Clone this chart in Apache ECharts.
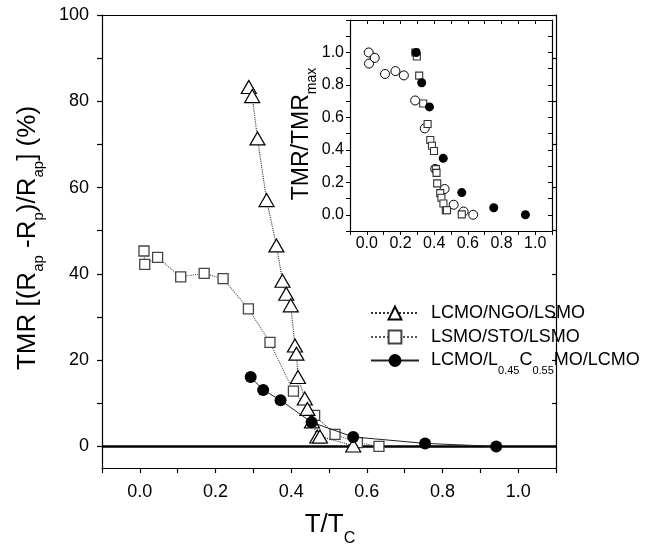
<!DOCTYPE html>
<html>
<head>
<meta charset="utf-8">
<script src="https://cdn.jsdelivr.net/npm/echarts@6/dist/echarts.min.js"></script>
<style>
  html, body { margin: 0; padding: 0; background: #fff; }
  #chart { width: 649px; height: 555px; }
</style>
</head>
<body>
<div id="chart"></div>
<script>
// LCMO/NGO/LSMO junction: reduced temperature and TMR (%)
const ngoT   = [0.288, 0.297, 0.311, 0.335, 0.361, 0.377, 0.387, 0.399, 0.410, 0.414, 0.418, 0.436, 0.443, 0.455, 0.469, 0.476, 0.564];
const ngoTMR = [83.3, 81.2, 71.4, 57.1, 46.6, 38.4, 35.4, 32.7, 23.4, 21.5, 16.1, 11.1, 8.7, 5.8, 2.3, 2.3, 0.2];

// LSMO/STO/LSMO junction
const stoT   = [0.011, 0.013, 0.047, 0.108, 0.170, 0.220, 0.287, 0.344, 0.406, 0.462, 0.516, 0.575, 0.632];
const stoTMR = [45.3, 42.2, 43.8, 39.3, 40.1, 38.9, 31.9, 24.1, 12.8, 7.2, 2.8, 0.9, 0.0];

// LCMO/L0.45C0.55MO/LCMO junction
const lcmoT   = [0.293, 0.326, 0.372, 0.454, 0.564, 0.754, 0.942];
const lcmoTMR = [16.1, 13.1, 10.7, 5.6, 2.2, 0.7, 0.0];

// axis tick positions
const mainXLabels = [0, 0.2, 0.4, 0.6, 0.8, 1.0];
const mainXTicks  = [-0.1, 0, 0.1, 0.2, 0.3, 0.4, 0.5, 0.6, 0.7, 0.8, 0.9, 1.0, 1.1];
const mainYLabels = [0, 20, 40, 60, 80, 100];
const mainYTicks  = [0, 10, 20, 30, 40, 50, 60, 70, 80, 90, 100];
const insetXLabels = [0, 0.2, 0.4, 0.6, 0.8, 1.0];
const insetXTicks  = [-0.1, 0, 0.1, 0.2, 0.3, 0.4, 0.5, 0.6, 0.7, 0.8, 0.9, 1.0, 1.1];
const insetYLabels = [0, 0.2, 0.4, 0.6, 0.8, 1.0];
const insetYTicks  = [-0.1, 0, 0.1, 0.2, 0.3, 0.4, 0.5, 0.6, 0.7, 0.8, 0.9, 1.0, 1.1, 1.2];

const NAME_NGO = 'LCMO/NGO/LSMO';
const NAME_STO = 'LSMO/STO/LSMO';
const NAME_LCMO = 'LCMO/L0.45C0.55MO/LCMO';

const FONT = '"Liberation Sans", Arial, Helvetica, sans-serif';

const pairs = (xs, ys) => xs.map((x, i) => [x, ys[i]]);
const normalized = (xs, ys) => {
  const m = Math.max(...ys);
  return xs.map((x, i) => [x, ys[i] / m]);
};

const fmt1 = v => v.toFixed(1);
const fmt0 = v => String(Math.round(v));

function valueAxis(opts) {
  return Object.assign({
    type: 'value',
    splitLine: { show: false },
    axisLine: { show: true, onZero: false, lineStyle: { color: '#000', width: 1.2 } },
    axisTick: { show: false },
    axisLabel: { show: false },
    minorTick: { show: false }
  }, opts);
}

const chart = echarts.init(document.getElementById('chart'), null, { renderer: 'canvas' });

const option = {
  animation: false,
  backgroundColor: '#fff',
  grid: [
    { left: 102, top: 15, right: 93, bottom: 87, containLabel: false },
    { left: 350, top: 20, right: 97, bottom: 324, containLabel: false, show: true, backgroundColor: '#fff', borderWidth: 0, z: 5 }
  ],
  xAxis: [
    valueAxis({
      gridIndex: 0, position: 'bottom', min: -0.1, max: 1.1,
      axisTick: { show: true, inside: false, length: 5, customValues: mainXTicks, lineStyle: { color: '#000', width: 1.2 } },
      axisLabel: { show: true, customValues: mainXLabels, formatter: fmt1, margin: 15, fontSize: 18, color: '#000', fontFamily: FONT }
    }),
    valueAxis({ gridIndex: 0, position: 'top', min: -0.1, max: 1.1 }),
    valueAxis({
      gridIndex: 1, position: 'bottom', min: -0.1, max: 1.1, z: 6,
      axisTick: { show: true, inside: false, length: 4, customValues: insetXTicks, lineStyle: { color: '#000', width: 1 } },
      axisLabel: { show: true, customValues: insetXLabels, formatter: fmt1, margin: 5, fontSize: 16, color: '#000', fontFamily: FONT }
    }),
    valueAxis({
      gridIndex: 1, position: 'top', min: -0.1, max: 1.1, z: 6,
      axisTick: { show: true, inside: true, length: 4, customValues: insetXTicks, lineStyle: { color: '#000', width: 1 } }
    })
  ],
  yAxis: [
    valueAxis({
      gridIndex: 0, position: 'left', min: -5, max: 100,
      axisTick: { show: true, inside: false, length: 5, customValues: mainYTicks, lineStyle: { color: '#000', width: 1.2 } },
      axisLabel: { show: true, customValues: mainYLabels, formatter: fmt0, margin: 13, fontSize: 18, color: '#000', fontFamily: FONT }
    }),
    valueAxis({
      gridIndex: 0, position: 'right', min: -5, max: 100,
      axisTick: { show: true, inside: true, length: 4, customValues: mainYTicks, lineStyle: { color: '#000', width: 1.2 } }
    }),
    valueAxis({
      gridIndex: 1, position: 'left', min: -0.1, max: 1.2, z: 6,
      axisTick: { show: true, inside: false, length: 4, customValues: insetYTicks, lineStyle: { color: '#000', width: 1 } },
      axisLabel: { show: true, customValues: insetYLabels, formatter: fmt1, margin: 6, fontSize: 16, color: '#000', fontFamily: FONT }
    }),
    valueAxis({
      gridIndex: 1, position: 'right', min: -0.1, max: 1.2, z: 6,
      axisTick: { show: true, inside: true, length: 4, customValues: insetYTicks, lineStyle: { color: '#000', width: 1 } }
    })
  ],
  legend: [
    {
      data: [NAME_NGO], orient: 'vertical', left: 370, top: 303, padding: 0,
      itemWidth: 48, itemHeight: 16,
      textStyle: { fontSize: 18, color: '#000', fontFamily: FONT, lineHeight: 20, padding: [0, 0, 0, 7] }
    },
    {
      data: [NAME_STO], orient: 'vertical', left: 370, top: 327, padding: 0,
      itemWidth: 48, itemHeight: 16,
      textStyle: { fontSize: 18, color: '#000', fontFamily: FONT, lineHeight: 20, padding: [0, 0, 0, 7] }
    },
    {
      data: [NAME_LCMO], orient: 'vertical', left: 370, top: 345, padding: 0,
      itemWidth: 48, itemHeight: 16,
      formatter: () => 'LCMO/L{s|0.45}C{s|0.55}MO/LCMO',
      textStyle: {
        fontSize: 18, color: '#000', fontFamily: FONT, lineHeight: 20, padding: [0, 0, 0, 7],
        rich: { s: { fontSize: 11, fontFamily: FONT, color: '#000', lineHeight: 10, padding: [20, 0, 0, 0] } }
      }
    }
  ],
  series: [
    {
      name: NAME_STO, type: 'line', xAxisIndex: 0, yAxisIndex: 0, z: 3,
      data: pairs(stoT, stoTMR),
      symbol: 'rect', symbolSize: 10,
      lineStyle: { type: 'dotted', color: '#555', width: 1.1 },
      itemStyle: { color: '#fff', borderColor: '#444', borderWidth: 1.3 },
      markLine: {
        silent: true, symbol: 'none', label: { show: false }, z: 2,
        lineStyle: { color: '#000', width: 2.5, type: 'solid' },
        data: [{ yAxis: 0 }]
      }
    },
    {
      name: NAME_NGO, type: 'line', xAxisIndex: 0, yAxisIndex: 0, z: 4,
      data: pairs(ngoT, ngoTMR),
      symbol: 'triangle', symbolSize: [15, 13],
      lineStyle: { type: 'dotted', color: '#333', width: 1.1 },
      itemStyle: { color: '#fff', borderColor: '#000', borderWidth: 1.2 }
    },
    {
      name: NAME_LCMO, type: 'line', xAxisIndex: 0, yAxisIndex: 0, z: 5,
      data: pairs(lcmoT, lcmoTMR),
      symbol: 'circle', symbolSize: 12,
      lineStyle: { type: 'solid', color: '#222', width: 1 },
      itemStyle: { color: '#000' }
    },
    // inset: TMR normalised to its maximum
    {
      name: 'inset-sto', type: 'scatter', xAxisIndex: 2, yAxisIndex: 2, z: 7,
      data: normalized(stoT, stoTMR),
      symbol: 'circle', symbolSize: 9,
      itemStyle: { color: '#fff', borderColor: '#000', borderWidth: 1, opacity: 1 }
    },
    {
      name: 'inset-ngo', type: 'scatter', xAxisIndex: 2, yAxisIndex: 2, z: 7,
      data: normalized(ngoT, ngoTMR),
      symbol: 'rect', symbolSize: 7,
      itemStyle: { color: '#fff', borderColor: '#333', borderWidth: 1.1, opacity: 1 }
    },
    {
      name: 'inset-lcmo', type: 'scatter', xAxisIndex: 2, yAxisIndex: 2, z: 8,
      data: normalized(lcmoT, lcmoTMR),
      symbol: 'circle', symbolSize: 9,
      itemStyle: { color: '#000', opacity: 1 }
    }
  ],
  graphic: [
    {
      type: 'text', x: 28, y: 238, rotation: Math.PI / 2, z: 10,
      style: {
        text: 'TMR [(R{s|ap} -R{s|p})/R{s|ap}] (%)',
        font: '26px ' + FONT, fill: '#000', align: 'center', verticalAlign: 'middle',
        rich: { s: { fontSize: 15, fontFamily: FONT, fill: '#000', lineHeight: 15, padding: [22, 0, 0, 0] } }
      }
    },
    {
      type: 'text', x: 330, y: 525, z: 10,
      style: {
        text: 'T/T{s|C}',
        font: '26px ' + FONT, fill: '#000', align: 'center', verticalAlign: 'middle',
        rich: { s: { fontSize: 16, fontFamily: FONT, fill: '#000', lineHeight: 16, padding: [28, 0, 0, 0] } }
      }
    },
    {
      type: 'text', x: 302, y: 134, rotation: Math.PI / 2, z: 10,
      style: {
        text: 'TMR/TMR{s|max}',
        font: '23px ' + FONT, fill: '#000', align: 'center', verticalAlign: 'middle',
        rich: { s: { fontSize: 14, fontFamily: FONT, fill: '#000', lineHeight: 14, padding: [20, 0, 0, 0] } }
      }
    }
  ]
};

chart.setOption(option);
</script>
</body>
</html>
